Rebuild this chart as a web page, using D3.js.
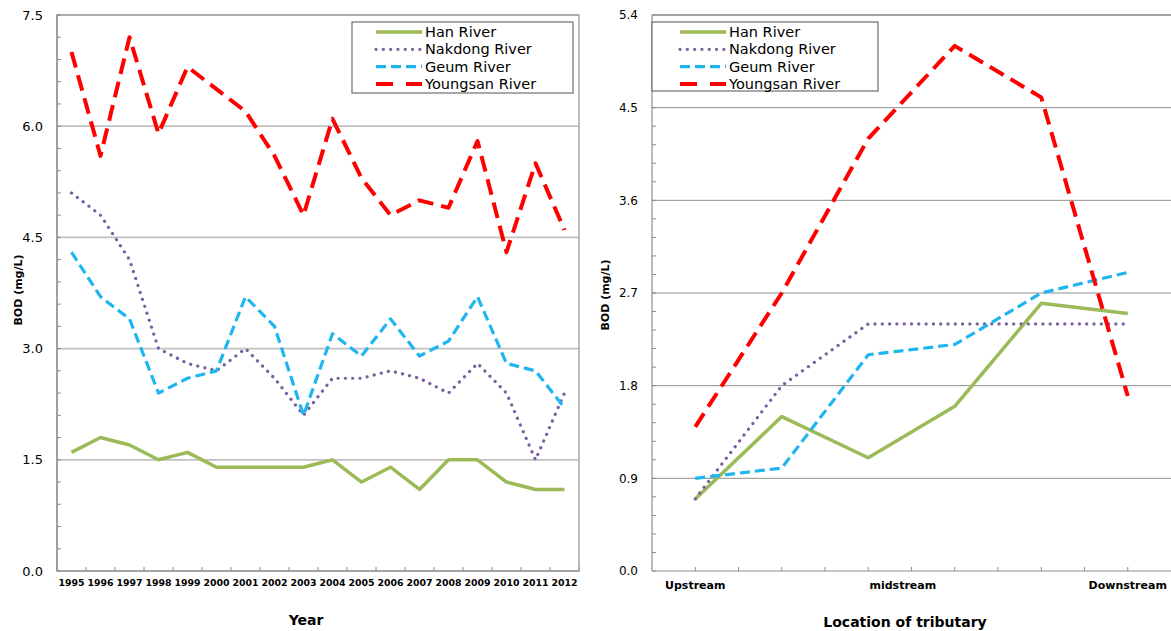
<!DOCTYPE html>
<html>
<head>
<meta charset="utf-8">
<script src="https://cdn.jsdelivr.net/npm/d3@7"></script>
<style>
  html, body { margin: 0; padding: 0; background: #fff; }
  svg text { font-family: "DejaVu Sans", Verdana, sans-serif; fill: #000; }
</style>
</head>
<body>
<svg id="chart" width="1171" height="631"></svg>
<script>
// Left panel: BOD by year
const years = ['1995','1996','1997','1998','1999','2000','2001','2002','2003','2004','2005','2006','2007','2008','2009','2010','2011','2012'];
const hanYear = [1.6, 1.8, 1.7, 1.5, 1.6, 1.4, 1.4, 1.4, 1.4, 1.5, 1.2, 1.4, 1.1, 1.5, 1.5, 1.2, 1.1, 1.1];
const nakdongYear = [5.1, 4.8, 4.2, 3.0, 2.8, 2.7, 3.0, 2.6, 2.1, 2.6, 2.6, 2.7, 2.6, 2.4, 2.8, 2.4, 1.5, 2.4];
const geumYear = [4.3, 3.7, 3.4, 2.4, 2.6, 2.7, 3.7, 3.3, 2.1, 3.2, 2.9, 3.4, 2.9, 3.1, 3.7, 2.8, 2.7, 2.2];
const youngsanYear = [7.0, 5.6, 7.2, 5.9, 6.8, 6.5, 6.2, 5.6, 4.8, 6.1, 5.3, 4.8, 5.0, 4.9, 5.8, 4.3, 5.5, 4.6];
const yearTicks = [0, 1.5, 3.0, 4.5, 6.0, 7.5];

// Right panel: BOD by location of tributary
const locations = [1, 3, 5, 7, 9, 11];
const hanLoc = [0.7, 1.5, 1.1, 1.6, 2.6, 2.5];
const nakdongLoc = [0.7, 1.8, 2.4, 2.4, 2.4, 2.4];
const geumLoc = [0.9, 1.0, 2.1, 2.2, 2.7, 2.9];
const youngsanLoc = [1.4, 2.7, 4.2, 5.1, 4.6, 1.7];
const locTicks = [0, 0.9, 1.8, 2.7, 3.6, 4.5, 5.4];
const locLabelPos = [1, 5.8, 11];
const locLabelText = ['Upstream', 'midstream', 'Downstream'];

const seriesNames = ['Han River', 'Nakdong River', 'Geum River', 'Youngsan River'];

// line styles per series
const styles = [
  { color: '#9bbb59', width: 3.5, dash: null, cap: 'butt' },
  { color: '#7a5fa0', width: 3.2, dash: '0.1,7.2', cap: 'round' },
  { color: '#1fb6f0', width: 3.2, dash: '10,5', cap: 'butt' },
  { color: '#ff0000', width: 4, dash: '16,8', cap: 'butt' }
];

const svg = d3.select('#chart');

function drawPanel(cfg) {
  const g = svg.append('g');
  const { x, y, left, right, top, bottom } = cfg;

  // gridlines
  g.selectAll('.grid')
    .data(cfg.yTicks.slice(1))
    .enter().append('line')
    .attr('x1', left).attr('x2', right)
    .attr('y1', d => y(d)).attr('y2', d => y(d))
    .attr('stroke', cfg.gridColor)
    .attr('stroke-width', cfg.gridWidth);

  // border / axis lines
  if (cfg.box) {
    g.append('rect')
      .attr('x', left).attr('y', top)
      .attr('width', right - left).attr('height', bottom - top)
      .attr('fill', 'none').attr('stroke', '#a6a6a6').attr('stroke-width', 1.5);
  }
  g.append('line').attr('x1', left).attr('x2', left).attr('y1', top).attr('y2', bottom)
    .attr('stroke', '#8c8c8c').attr('stroke-width', 1.2);
  g.append('line').attr('x1', left).attr('x2', right).attr('y1', bottom).attr('y2', bottom)
    .attr('stroke', '#8c8c8c').attr('stroke-width', 1.2);

  // y axis labels and minor ticks
  const yAxis = d3.axisLeft(y).tickValues(cfg.yTicks).tickSize(0).tickPadding(cfg.yPad)
    .tickFormat(d3.format('.1f'));
  const ya = g.append('g').attr('transform', `translate(${left},0)`).call(yAxis);
  ya.select('.domain').remove();
  ya.selectAll('text').style('font-size', cfg.yFont + 'px').attr('fill', '#000');

  g.selectAll('.minor')
    .data(cfg.minorTicks)
    .enter().append('line')
    .attr('x1', left).attr('x2', left + 4)
    .attr('y1', d => y(d)).attr('y2', d => y(d))
    .attr('stroke', '#8c8c8c').attr('stroke-width', 1);

  // x ticks (inside)
  g.selectAll('.xtick')
    .data(cfg.xTickPos)
    .enter().append('line')
    .attr('x1', d => d).attr('x2', d => d)
    .attr('y1', bottom).attr('y2', bottom - 4)
    .attr('stroke', '#8c8c8c').attr('stroke-width', 1);

  // lines
  const line = d3.line().x(d => d[0]).y(d => y(d[1]));
  cfg.series.forEach((vals, i) => {
    const s = styles[i];
    const pts = vals.map((v, j) => [cfg.xOf(j), v]);
    g.append('path')
      .datum(pts)
      .attr('d', line)
      .attr('fill', 'none')
      .attr('stroke', s.color)
      .attr('stroke-width', s.width)
      .attr('stroke-linecap', s.cap)
      .attr('stroke-linejoin', 'round')
      .attr('stroke-dasharray', s.dash);
  });

  // legend
  const lg = g.append('g').attr('transform', `translate(${cfg.legend.x},${cfg.legend.y})`);
  lg.append('rect')
    .attr('width', cfg.legend.w).attr('height', cfg.legend.h)
    .attr('fill', '#fff').attr('stroke', '#6e6e6e').attr('stroke-width', 1.2);
  seriesNames.forEach((name, i) => {
    const s = styles[i];
    const cy = 10 + i * 17.3;
    const l = lg.append('line')
      .attr('x1', cfg.legend.lx).attr('x2', cfg.legend.lx + 46)
      .attr('y1', cy).attr('y2', cy)
      .attr('stroke', s.color).attr('stroke-width', s.width)
      .attr('stroke-linecap', s.cap);
    if (i === 3) l.attr('stroke-dasharray', '17,13');
    else if (s.dash) l.attr('stroke-dasharray', s.dash);
    lg.append('text')
      .attr('x', cfg.legend.lx + 49).attr('y', cy + 5)
      .style('font-size', '14.5px')
      .text(name);
  });

  // axis titles
  g.append('text')
    .attr('transform', `translate(${cfg.yTitleX},${cfg.yTitleY}) rotate(-90)`)
    .attr('text-anchor', 'middle')
    .style('font-size', '11px').style('font-weight', 'bold')
    .text('BOD (mg/L)');
  g.append('text')
    .attr('x', cfg.xTitleX).attr('y', cfg.xTitleY)
    .attr('text-anchor', 'middle')
    .style('font-size', '14px').style('font-weight', 'bold')
    .text(cfg.xTitle);
  return g;
}

// ---- left panel ----
const L = { left: 57, right: 579, top: 15, bottom: 571 };
const xYear = d3.scaleBand().domain(years).range([L.left, L.right]);
const yYear = d3.scaleLinear().domain([0, 7.5]).range([L.bottom, L.top]);
const gl = drawPanel({
  ...L,
  x: xYear, y: yYear,
  yTicks: yearTicks,
  minorTicks: d3.range(0, 7.51, 0.3),
  yFont: 13, yPad: 14,
  gridColor: '#c0c0c0', gridWidth: 1.8,
  box: true,
  xTickPos: years.map(d => xYear(d)).concat([L.right]),
  xOf: j => xYear(years[j]) + xYear.bandwidth() / 2,
  series: [hanYear, nakdongYear, geumYear, youngsanYear],
  legend: { x: 352, y: 22, w: 221, h: 71, lx: 24 },
  yTitleX: 22, yTitleY: 290,
  xTitle: 'Year', xTitleX: 306, xTitleY: 625
});
gl.append('g')
  .selectAll('text')
  .data(years)
  .enter().append('text')
  .attr('x', d => xYear(d) + xYear.bandwidth() / 2)
  .attr('y', 586)
  .attr('text-anchor', 'middle')
  .style('font-size', '9.4px').style('font-weight', 'bold')
  .text(d => d);

// ---- right panel ----
const R = { left: 652, right: 1171, top: 15, bottom: 571 };
const xLoc = d3.scaleLinear().domain([0, 12]).range([R.left, R.right]);
const yLoc = d3.scaleLinear().domain([0, 5.4]).range([R.bottom, R.top]);
const gr = drawPanel({
  ...R,
  x: xLoc, y: yLoc,
  yTicks: locTicks,
  minorTicks: d3.range(0, 5.41, 0.18),
  yFont: 12, yPad: 14,
  gridColor: '#8e8e8e', gridWidth: 1,
  box: false,
  xTickPos: d3.range(1, 12).map(d => xLoc(d)),
  xOf: j => xLoc(locations[j]),
  series: [hanLoc, nakdongLoc, geumLoc, youngsanLoc],
  legend: { x: 652, y: 22, w: 226, h: 69, lx: 28 },
  yTitleX: 609, yTitleY: 295,
  xTitle: 'Location of tributary', xTitleX: 905, xTitleY: 627
});
// top border of right panel
gr.append('line').attr('x1', R.left).attr('x2', R.right)
  .attr('y1', yLoc(5.4)).attr('y2', yLoc(5.4))
  .attr('stroke', '#a0a0a0').attr('stroke-width', 2);
gr.append('g')
  .selectAll('text')
  .data(locLabelPos)
  .enter().append('text')
  .attr('x', d => xLoc(d))
  .attr('y', 589)
  .attr('text-anchor', 'middle')
  .style('font-size', '11px').style('font-weight', 'bold')
  .text((d, i) => locLabelText[i]);
</script>
</body>
</html>
